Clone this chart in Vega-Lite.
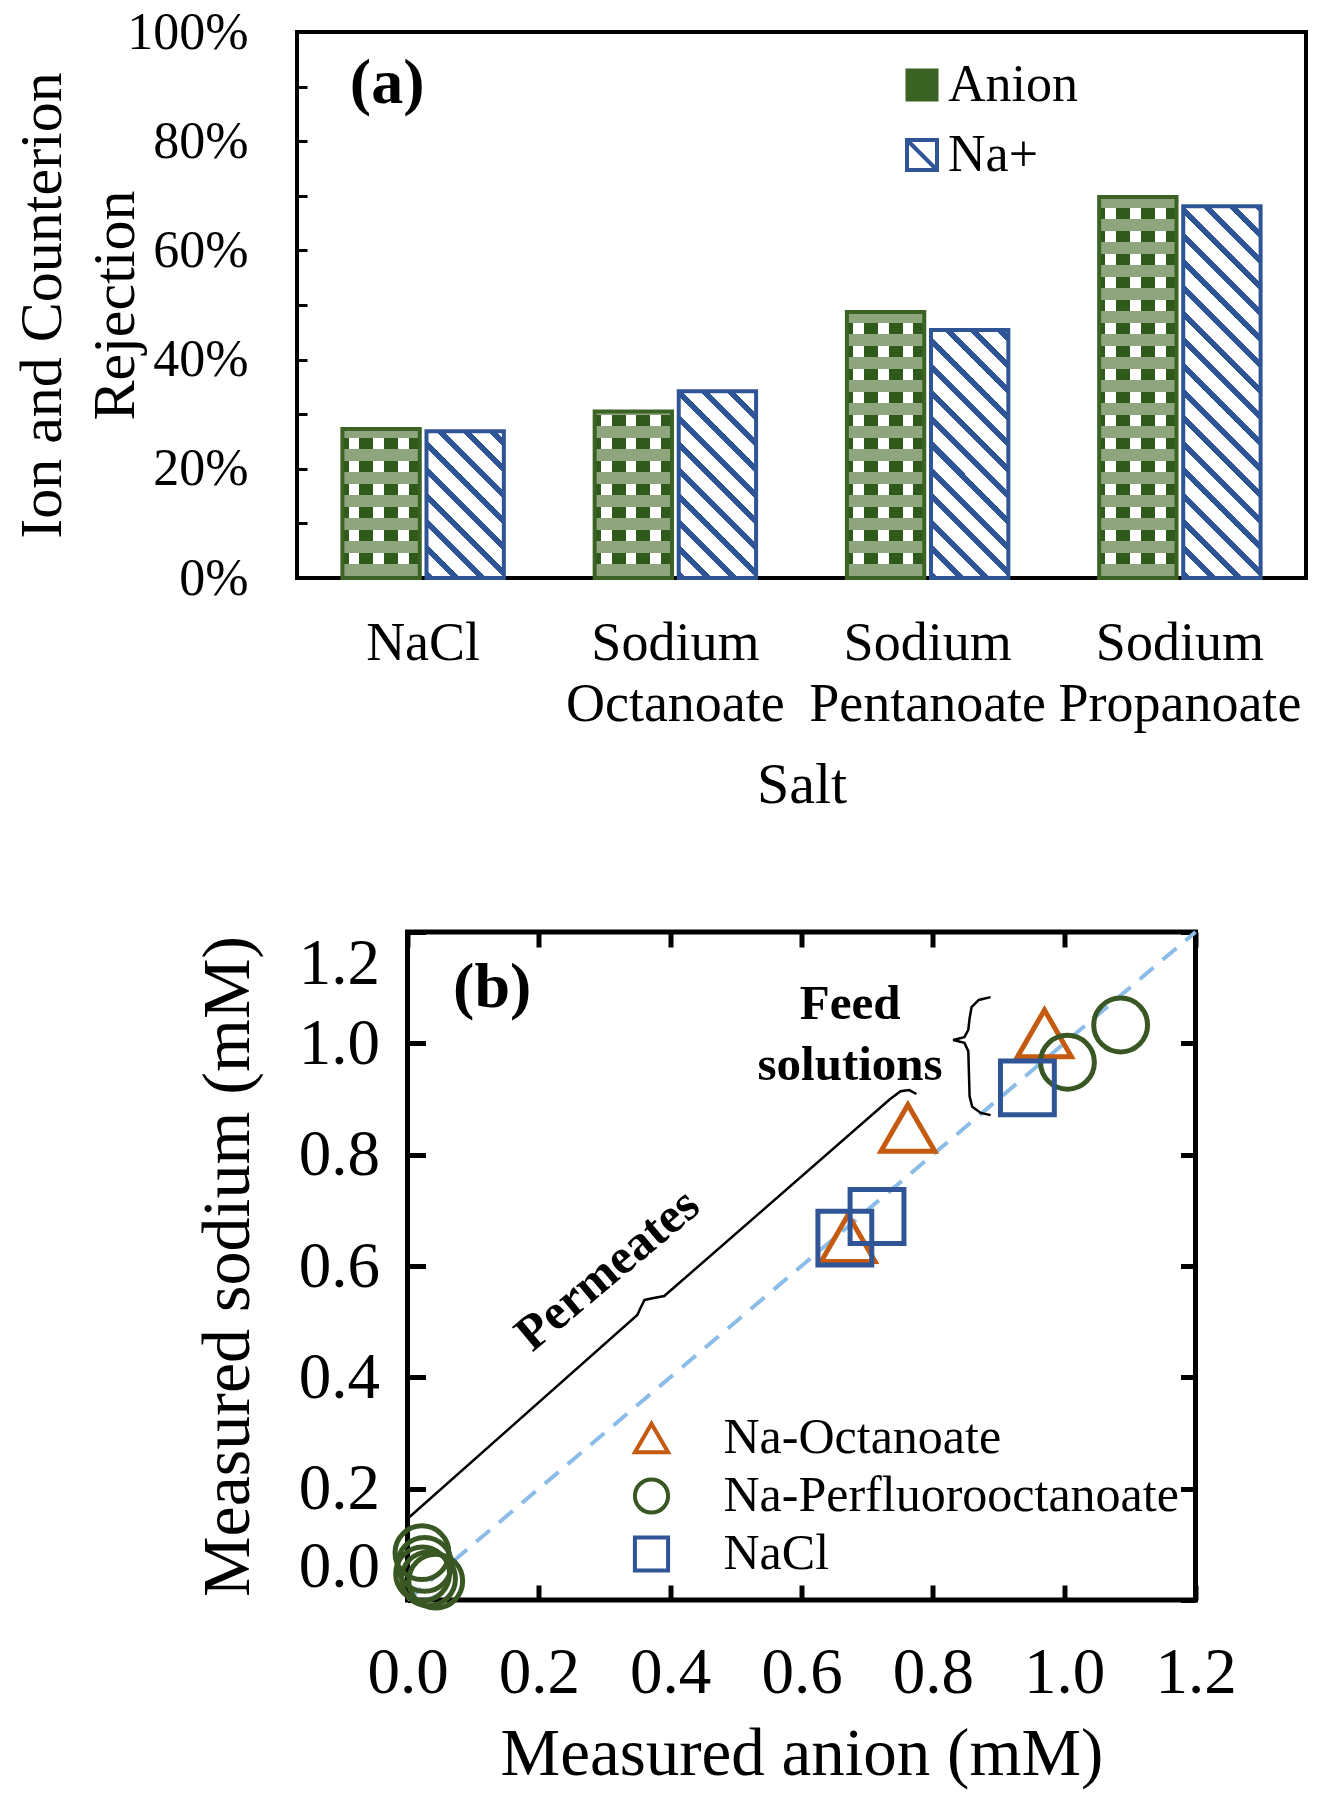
{
  "$schema": "https://vega.github.io/schema/vega-lite/v6.json",
  "background": "white",
  "padding": {"left": 10, "top": 4, "right": 5, "bottom": 5},
  "params": [
    {"name": "bandStops", "value": [
      {"offset": 0, "color": "rgba(255,255,255,0)"},
      {"offset": 0.004, "color": "rgba(255,255,255,0)"}, {"offset": 0.004, "color": "#8ea57d"}, {"offset": 0.03, "color": "#8ea57d"}, {"offset": 0.03, "color": "rgba(255,255,255,0)"},
      {"offset": 0.054, "color": "rgba(255,255,255,0)"}, {"offset": 0.054, "color": "#8ea57d"}, {"offset": 0.08, "color": "#8ea57d"}, {"offset": 0.08, "color": "rgba(255,255,255,0)"},
      {"offset": 0.104, "color": "rgba(255,255,255,0)"}, {"offset": 0.104, "color": "#8ea57d"}, {"offset": 0.13, "color": "#8ea57d"}, {"offset": 0.13, "color": "rgba(255,255,255,0)"},
      {"offset": 0.154, "color": "rgba(255,255,255,0)"}, {"offset": 0.154, "color": "#8ea57d"}, {"offset": 0.18, "color": "#8ea57d"}, {"offset": 0.18, "color": "rgba(255,255,255,0)"},
      {"offset": 0.204, "color": "rgba(255,255,255,0)"}, {"offset": 0.204, "color": "#8ea57d"}, {"offset": 0.23, "color": "#8ea57d"}, {"offset": 0.23, "color": "rgba(255,255,255,0)"},
      {"offset": 0.254, "color": "rgba(255,255,255,0)"}, {"offset": 0.254, "color": "#8ea57d"}, {"offset": 0.28, "color": "#8ea57d"}, {"offset": 0.28, "color": "rgba(255,255,255,0)"},
      {"offset": 0.304, "color": "rgba(255,255,255,0)"}, {"offset": 0.304, "color": "#8ea57d"}, {"offset": 0.33, "color": "#8ea57d"}, {"offset": 0.33, "color": "rgba(255,255,255,0)"},
      {"offset": 0.354, "color": "rgba(255,255,255,0)"}, {"offset": 0.354, "color": "#8ea57d"}, {"offset": 0.38, "color": "#8ea57d"}, {"offset": 0.38, "color": "rgba(255,255,255,0)"},
      {"offset": 0.404, "color": "rgba(255,255,255,0)"}, {"offset": 0.404, "color": "#8ea57d"}, {"offset": 0.43, "color": "#8ea57d"}, {"offset": 0.43, "color": "rgba(255,255,255,0)"},
      {"offset": 0.454, "color": "rgba(255,255,255,0)"}, {"offset": 0.454, "color": "#8ea57d"}, {"offset": 0.48, "color": "#8ea57d"}, {"offset": 0.48, "color": "rgba(255,255,255,0)"},
      {"offset": 0.504, "color": "rgba(255,255,255,0)"}, {"offset": 0.504, "color": "#8ea57d"}, {"offset": 0.53, "color": "#8ea57d"}, {"offset": 0.53, "color": "rgba(255,255,255,0)"},
      {"offset": 0.554, "color": "rgba(255,255,255,0)"}, {"offset": 0.554, "color": "#8ea57d"}, {"offset": 0.58, "color": "#8ea57d"}, {"offset": 0.58, "color": "rgba(255,255,255,0)"},
      {"offset": 0.604, "color": "rgba(255,255,255,0)"}, {"offset": 0.604, "color": "#8ea57d"}, {"offset": 0.63, "color": "#8ea57d"}, {"offset": 0.63, "color": "rgba(255,255,255,0)"},
      {"offset": 0.654, "color": "rgba(255,255,255,0)"}, {"offset": 0.654, "color": "#8ea57d"}, {"offset": 0.68, "color": "#8ea57d"}, {"offset": 0.68, "color": "rgba(255,255,255,0)"},
      {"offset": 0.704, "color": "rgba(255,255,255,0)"}, {"offset": 0.704, "color": "#8ea57d"}, {"offset": 0.73, "color": "#8ea57d"}, {"offset": 0.73, "color": "rgba(255,255,255,0)"},
      {"offset": 0.754, "color": "rgba(255,255,255,0)"}, {"offset": 0.754, "color": "#8ea57d"}, {"offset": 0.78, "color": "#8ea57d"}, {"offset": 0.78, "color": "rgba(255,255,255,0)"},
      {"offset": 0.804, "color": "rgba(255,255,255,0)"}, {"offset": 0.804, "color": "#8ea57d"}, {"offset": 0.83, "color": "#8ea57d"}, {"offset": 0.83, "color": "rgba(255,255,255,0)"},
      {"offset": 0.854, "color": "rgba(255,255,255,0)"}, {"offset": 0.854, "color": "#8ea57d"}, {"offset": 0.88, "color": "#8ea57d"}, {"offset": 0.88, "color": "rgba(255,255,255,0)"},
      {"offset": 0.904, "color": "rgba(255,255,255,0)"}, {"offset": 0.904, "color": "#8ea57d"}, {"offset": 0.93, "color": "#8ea57d"}, {"offset": 0.93, "color": "rgba(255,255,255,0)"},
      {"offset": 0.954, "color": "rgba(255,255,255,0)"}, {"offset": 0.954, "color": "#8ea57d"}, {"offset": 0.98, "color": "#8ea57d"}, {"offset": 0.98, "color": "rgba(255,255,255,0)"},
      {"offset": 1, "color": "rgba(255,255,255,0)"}
    ]},
    {"name": "stripeStops", "value": [
      {"offset": 0, "color": "#2f5597"}, {"offset": 0.0171, "color": "#2f5597"}, {"offset": 0.0171, "color": "#ffffff"},
      {"offset": 0.0556, "color": "#ffffff"}, {"offset": 0.0556, "color": "#2f5597"}, {"offset": 0.0727, "color": "#2f5597"}, {"offset": 0.0727, "color": "#ffffff"},
      {"offset": 0.1111, "color": "#ffffff"}, {"offset": 0.1111, "color": "#2f5597"}, {"offset": 0.1282, "color": "#2f5597"}, {"offset": 0.1282, "color": "#ffffff"},
      {"offset": 0.1667, "color": "#ffffff"}, {"offset": 0.1667, "color": "#2f5597"}, {"offset": 0.1838, "color": "#2f5597"}, {"offset": 0.1838, "color": "#ffffff"},
      {"offset": 0.2222, "color": "#ffffff"}, {"offset": 0.2222, "color": "#2f5597"}, {"offset": 0.2393, "color": "#2f5597"}, {"offset": 0.2393, "color": "#ffffff"},
      {"offset": 0.2778, "color": "#ffffff"}, {"offset": 0.2778, "color": "#2f5597"}, {"offset": 0.2949, "color": "#2f5597"}, {"offset": 0.2949, "color": "#ffffff"},
      {"offset": 0.3333, "color": "#ffffff"}, {"offset": 0.3333, "color": "#2f5597"}, {"offset": 0.3504, "color": "#2f5597"}, {"offset": 0.3504, "color": "#ffffff"},
      {"offset": 0.3889, "color": "#ffffff"}, {"offset": 0.3889, "color": "#2f5597"}, {"offset": 0.406, "color": "#2f5597"}, {"offset": 0.406, "color": "#ffffff"},
      {"offset": 0.4444, "color": "#ffffff"}, {"offset": 0.4444, "color": "#2f5597"}, {"offset": 0.4615, "color": "#2f5597"}, {"offset": 0.4615, "color": "#ffffff"},
      {"offset": 0.5, "color": "#ffffff"}, {"offset": 0.5, "color": "#2f5597"}, {"offset": 0.5171, "color": "#2f5597"}, {"offset": 0.5171, "color": "#ffffff"},
      {"offset": 0.5556, "color": "#ffffff"}, {"offset": 0.5556, "color": "#2f5597"}, {"offset": 0.5727, "color": "#2f5597"}, {"offset": 0.5727, "color": "#ffffff"},
      {"offset": 0.6111, "color": "#ffffff"}, {"offset": 0.6111, "color": "#2f5597"}, {"offset": 0.6282, "color": "#2f5597"}, {"offset": 0.6282, "color": "#ffffff"},
      {"offset": 0.6667, "color": "#ffffff"}, {"offset": 0.6667, "color": "#2f5597"}, {"offset": 0.6838, "color": "#2f5597"}, {"offset": 0.6838, "color": "#ffffff"},
      {"offset": 0.7222, "color": "#ffffff"}, {"offset": 0.7222, "color": "#2f5597"}, {"offset": 0.7393, "color": "#2f5597"}, {"offset": 0.7393, "color": "#ffffff"},
      {"offset": 0.7778, "color": "#ffffff"}, {"offset": 0.7778, "color": "#2f5597"}, {"offset": 0.7949, "color": "#2f5597"}, {"offset": 0.7949, "color": "#ffffff"},
      {"offset": 0.8333, "color": "#ffffff"}, {"offset": 0.8333, "color": "#2f5597"}, {"offset": 0.8504, "color": "#2f5597"}, {"offset": 0.8504, "color": "#ffffff"},
      {"offset": 0.8889, "color": "#ffffff"}, {"offset": 0.8889, "color": "#2f5597"}, {"offset": 0.906, "color": "#2f5597"}, {"offset": 0.906, "color": "#ffffff"},
      {"offset": 0.9444, "color": "#ffffff"}, {"offset": 0.9444, "color": "#2f5597"}, {"offset": 0.9615, "color": "#2f5597"}, {"offset": 0.9615, "color": "#ffffff"},
      {"offset": 1, "color": "#ffffff"}
    ]}
  ],
  "config": {
    "font": "Liberation Serif",
    "axis": {"labelFont": "Liberation Serif", "titleFont": "Liberation Serif", "labelColor": "black", "titleColor": "black", "titleFontWeight": "normal", "domain": false, "grid": false, "tickColor": "black", "labelOverlap": false},
    "legend": {"labelFont": "Liberation Serif", "labelColor": "black"}
  },
  "resolve": {"scale": {"stroke": "independent", "shape": "independent", "fill": "independent"}, "legend": {"stroke": "independent", "shape": "independent", "fill": "independent"}},
  "spacing": 354,
  "bounds": "flush",
  "center": true,
  "vconcat": [
    {
      "width": 1009,
      "height": 546,
      "view": {"stroke": "black", "strokeWidth": 4},
      "layer": [
        {
          "data": {"values": [
            {"Salt": "NaCl", "Ion": "Anion", "value": 27.3},
            {"Salt": "NaCl", "Ion": "Na+", "value": 26.9},
            {"Salt": "Sodium Octanoate", "Ion": "Anion", "value": 30.5},
            {"Salt": "Sodium Octanoate", "Ion": "Na+", "value": 34.2},
            {"Salt": "Sodium Pentanoate", "Ion": "Anion", "value": 48.7},
            {"Salt": "Sodium Pentanoate", "Ion": "Na+", "value": 45.4},
            {"Salt": "Sodium Propanoate", "Ion": "Anion", "value": 69.8},
            {"Salt": "Sodium Propanoate", "Ion": "Na+", "value": 68.1}
          ]},
          "encoding": {
            "x": {"field": "Salt", "type": "nominal", "sort": null,
              "scale": {"paddingInner": 0.36, "paddingOuter": 0.18},
              "axis": {"title": "Salt", "labelExpr": "datum.label === 'NaCl' ? 'NaCl' : split(datum.label, ' ')", "labelAngle": 0, "labelFontSize": 54, "labelLineHeight": 61, "labelPadding": 38, "labelLimit": 400, "ticks": false, "titleFontSize": 58, "titlePadding": 25}},
            "xOffset": {"field": "Ion", "type": "nominal", "sort": ["Anion", "Na+"], "scale": {"paddingInner": 0.08, "paddingOuter": 0}},
            "y": {"field": "value", "type": "quantitative", "scale": {"domain": [0, 100], "nice": false},
              "axis": {"title": ["Ion and Counterion", "Rejection"], "values": [0, 10, 20, 30, 40, 50, 60, 70, 80, 90, 100], "labelExpr": "datum.value % 20 === 0 ? datum.value + '%' : ''", "tickSize": -10, "tickWidth": 3, "labelFontSize": 52, "labelPadding": 59, "titleFontSize": 60, "titleLineHeight": 73, "titlePadding": -20}}
          },
          "layer": [
            {"transform": [{"filter": "datum.Ion === 'Anion'"}],
             "mark": {"type": "bar", "strokeWidth": 0},
             "encoding": {"fill": {"field": "Ion", "type": "nominal", "scale": {"domain": ["Anion"], "range": ["#3b6324"]},
               "legend": {"title": null, "orient": "none", "legendX": 599, "legendY": 27, "symbolType": "square", "symbolSize": 900, "symbolStrokeColor": "#3b6324", "symbolStrokeWidth": 3, "symbolOpacity": 1, "labelFontSize": 52, "labelOffset": 0, "labelLimit": 400}}}},
            {"transform": [{"filter": "datum.Ion === 'Anion'"}],
             "mark": {"type": "bar", "strokeWidth": 0, "fill": {"gradient": "linear", "x1": 0, "y1": 0, "x2": 1, "y2": 0, "stops": [
               {"offset": 0, "color": "#30591c"}, {"offset": 0.08, "color": "#30591c"}, {"offset": 0.08, "color": "#ffffff"}, {"offset": 0.22, "color": "#ffffff"},
               {"offset": 0.22, "color": "#30591c"}, {"offset": 0.4, "color": "#30591c"}, {"offset": 0.4, "color": "#ffffff"}, {"offset": 0.54, "color": "#ffffff"},
               {"offset": 0.54, "color": "#30591c"}, {"offset": 0.72, "color": "#30591c"}, {"offset": 0.72, "color": "#ffffff"}, {"offset": 0.86, "color": "#ffffff"},
               {"offset": 0.86, "color": "#30591c"}, {"offset": 1, "color": "#30591c"}]}}},
            {"transform": [{"filter": "datum.Ion === 'Anion'"}],
             "mark": {"type": "bar", "strokeWidth": 0, "fill": {"expr": "{gradient: 'linear', x1: 0, y1: 1, x2: 0.000001, y2: 1 - 460/(datum.value*5.46), stops: bandStops}"}}},
            {"transform": [{"filter": "datum.Ion === 'Na+'"}],
             "mark": {"type": "bar", "strokeWidth": 0, "fill": {"expr": "{gradient: 'linear', x1: 0, y1: 1, x2: 468*77.36/(5984.6 + pow(datum.value*5.46, 2)), y2: 1 - 468*datum.value*5.46/(5984.6 + pow(datum.value*5.46, 2)), stops: stripeStops}"}}},
            {"mark": {"type": "bar", "filled": false, "strokeWidth": 4},
             "encoding": {"stroke": {"field": "Ion", "type": "nominal", "scale": {"domain": ["Anion", "Na+"], "range": ["#3b6324", "#2f5597"]},
               "legend": {"title": null, "values": ["Na+"], "orient": "none", "legendX": 599, "legendY": 97, "symbolType": "M-1,-1L1,-1L1,1L-1,1Z M-1,-1L1,1", "symbolSize": 900, "symbolStrokeWidth": 4, "labelFontSize": 52, "labelOffset": 0, "labelLimit": 400}}}}
          ]
        },
        {
          "data": {"values": [{"label": "(a)"}]},
          "mark": {"type": "text", "font": "Liberation Serif", "fontWeight": "bold", "fontSize": 64, "align": "center", "baseline": "middle", "dx": -36},
          "encoding": {
            "x": {"datum": "NaCl", "type": "nominal"},
            "y": {"datum": 90.5, "type": "quantitative"},
            "text": {"field": "label"}
          }
        }
      ]
    },
    {
      "width": 788,
      "height": 668,
      "view": {"stroke": "black", "strokeWidth": 5},
      "resolve": {"axis": {"x": "independent", "y": "independent"}},
      "layer": [
        {
          "data": {"values": [{"x": 0, "y": 0}, {"x": 1.2, "y": 1.2}]},
          "mark": {"type": "line", "stroke": "#8cbce8", "strokeWidth": 4, "strokeDash": [18, 12]},
          "encoding": {
            "x": {"field": "x", "type": "quantitative", "scale": {"domain": [0, 1.2], "nice": false, "zero": false},
              "axis": {"orient": "bottom", "title": "Measured anion (mM)", "values": [0, 0.2, 0.4, 0.6, 0.8, 1, 1.2], "format": ".1f", "labelFlush": false, "tickSize": -15, "tickWidth": 5, "labelFontSize": 65, "labelPadding": 56, "titleFontSize": 67, "titlePadding": 16}},
            "y": {"field": "y", "type": "quantitative", "scale": {"domain": [0, 1.2], "nice": false, "zero": false},
              "axis": {"orient": "left", "title": "Measured sodium (mM)", "values": [0, 0.2, 0.4, 0.6, 0.8, 1, 1.2], "format": ".1f", "labelFlush": true, "tickSize": -18, "tickWidth": 5, "labelFontSize": 65, "labelPadding": 46, "titleFontSize": 68, "titlePadding": 36}}
          }
        },
        {
          "data": {"values": [
            {"i": 0, "x": 0.003, "y": 0.149},
            {"i": 1, "x": 0.35, "y": 0.512},
            {"i": 2, "x": 0.355, "y": 0.525},
            {"i": 3, "x": 0.361, "y": 0.539},
            {"i": 4, "x": 0.373, "y": 0.542},
            {"i": 5, "x": 0.391, "y": 0.546},
            {"i": 6, "x": 0.735, "y": 0.9},
            {"i": 7, "x": 0.751, "y": 0.914},
            {"i": 8, "x": 0.764, "y": 0.916},
            {"i": 9, "x": 0.775, "y": 0.909}
          ]},
          "mark": {"type": "line", "stroke": "black", "strokeWidth": 2.5},
          "encoding": {
            "x": {"field": "x", "type": "quantitative", "scale": {"domain": [0, 1.2], "nice": false, "zero": false},
              "axis": {"orient": "top", "title": null, "labels": false, "values": [0, 0.2, 0.4, 0.6, 0.8, 1, 1.2], "tickSize": -15, "tickWidth": 5}},
            "y": {"field": "y", "type": "quantitative", "scale": {"domain": [0, 1.2], "nice": false, "zero": false},
              "axis": {"orient": "right", "title": null, "labels": false, "values": [0, 0.2, 0.4, 0.6, 0.8, 1, 1.2], "tickSize": -15, "tickWidth": 5}},
            "order": {"field": "i", "type": "quantitative"}
          }
        },
        {
          "data": {"values": [
            {"i": 0, "x": 0.888, "y": 1.083},
            {"i": 1, "x": 0.87, "y": 1.078},
            {"i": 2, "x": 0.859, "y": 1.065},
            {"i": 3, "x": 0.856, "y": 1.045},
            {"i": 4, "x": 0.854, "y": 1.024},
            {"i": 5, "x": 0.848, "y": 1.011},
            {"i": 6, "x": 0.831, "y": 1.006},
            {"i": 7, "x": 0.848, "y": 1.001},
            {"i": 8, "x": 0.854, "y": 0.986},
            {"i": 9, "x": 0.856, "y": 0.905},
            {"i": 10, "x": 0.86, "y": 0.886},
            {"i": 11, "x": 0.873, "y": 0.875},
            {"i": 12, "x": 0.888, "y": 0.871}
          ]},
          "mark": {"type": "line", "stroke": "black", "strokeWidth": 2.5},
          "encoding": {
            "x": {"field": "x", "type": "quantitative", "scale": {"domain": [0, 1.2], "nice": false, "zero": false}, "axis": null},
            "y": {"field": "y", "type": "quantitative", "scale": {"domain": [0, 1.2], "nice": false, "zero": false}, "axis": null},
            "order": {"field": "i", "type": "quantitative"}
          }
        },
        {
          "data": {"values": [
            {"Salt": "Na-Octanoate", "anion": 0.97, "sodium": 1.018},
            {"Salt": "Na-Octanoate", "anion": 0.762, "sodium": 0.848},
            {"Salt": "Na-Octanoate", "anion": 0.671, "sodium": 0.65},
            {"Salt": "Na-Perfluorooctanoate", "anion": 1.005, "sodium": 0.966},
            {"Salt": "Na-Perfluorooctanoate", "anion": 1.086, "sodium": 1.033},
            {"Salt": "Na-Perfluorooctanoate", "anion": 0.022, "sodium": 0.085},
            {"Salt": "Na-Perfluorooctanoate", "anion": 0.026, "sodium": 0.064},
            {"Salt": "Na-Perfluorooctanoate", "anion": 0.032, "sodium": 0.038},
            {"Salt": "Na-Perfluorooctanoate", "anion": 0.043, "sodium": 0.034},
            {"Salt": "Na-Perfluorooctanoate", "anion": 0.023, "sodium": 0.047},
            {"Salt": "NaCl", "anion": 0.944, "sodium": 0.92},
            {"Salt": "NaCl", "anion": 0.666, "sodium": 0.65},
            {"Salt": "NaCl", "anion": 0.715, "sodium": 0.689}
          ]},
          "mark": {"type": "point", "filled": false, "strokeWidth": 5, "size": 2900, "opacity": 1},
          "encoding": {
            "x": {"field": "anion", "type": "quantitative", "scale": {"domain": [0, 1.2], "nice": false, "zero": false}, "axis": null},
            "y": {"field": "sodium", "type": "quantitative", "scale": {"domain": [0, 1.2], "nice": false, "zero": false}, "axis": null},
            "shape": {"field": "Salt", "type": "nominal", "scale": {"domain": ["Na-Octanoate", "Na-Perfluorooctanoate", "NaCl"], "range": ["triangle-up", "circle", "square"]},
              "legend": {"title": null, "orient": "none", "legendX": 219, "legendY": 481, "symbolSize": 1100, "symbolStrokeWidth": 4, "labelFontSize": 50, "labelOffset": 47, "rowPadding": 8, "labelLimit": 600}},
            "stroke": {"field": "Salt", "type": "nominal", "scale": {"domain": ["Na-Octanoate", "Na-Perfluorooctanoate", "NaCl"], "range": ["#c55a11", "#385723", "#2f5597"]},
              "legend": {"title": null, "orient": "none", "legendX": 219, "legendY": 481, "symbolSize": 1100, "symbolStrokeWidth": 4, "labelFontSize": 50, "labelOffset": 47, "rowPadding": 8, "labelLimit": 600}}
          }
        },
        {
          "data": {"values": [{"x": 0.129, "y": 1.099, "label": "(b)"}]},
          "mark": {"type": "text", "font": "Liberation Serif", "fontWeight": "bold", "fontSize": 64, "align": "center", "baseline": "middle"},
          "encoding": {
            "x": {"field": "x", "type": "quantitative", "scale": {"domain": [0, 1.2], "nice": false, "zero": false}, "axis": null},
            "y": {"field": "y", "type": "quantitative", "scale": {"domain": [0, 1.2], "nice": false, "zero": false}, "axis": null},
            "text": {"field": "label"}
          }
        },
        {
          "data": {"values": [{"x": 0.674, "y": 1.071, "label": "Feed\nsolutions"}]},
          "mark": {"type": "text", "font": "Liberation Serif", "fontWeight": "bold", "fontSize": 49, "align": "center", "baseline": "middle", "lineBreak": "\n", "lineHeight": 61},
          "encoding": {
            "x": {"field": "x", "type": "quantitative", "scale": {"domain": [0, 1.2], "nice": false, "zero": false}, "axis": null},
            "y": {"field": "y", "type": "quantitative", "scale": {"domain": [0, 1.2], "nice": false, "zero": false}, "axis": null},
            "text": {"field": "label"}
          }
        },
        {
          "data": {"values": [{"x": 0.305, "y": 0.593, "label": "Permeates"}]},
          "mark": {"type": "text", "font": "Liberation Serif", "fontWeight": "bold", "fontSize": 50, "align": "center", "baseline": "middle", "angle": -40},
          "encoding": {
            "x": {"field": "x", "type": "quantitative", "scale": {"domain": [0, 1.2], "nice": false, "zero": false}, "axis": null},
            "y": {"field": "y", "type": "quantitative", "scale": {"domain": [0, 1.2], "nice": false, "zero": false}, "axis": null},
            "text": {"field": "label"}
          }
        }
      ]
    }
  ]
}
